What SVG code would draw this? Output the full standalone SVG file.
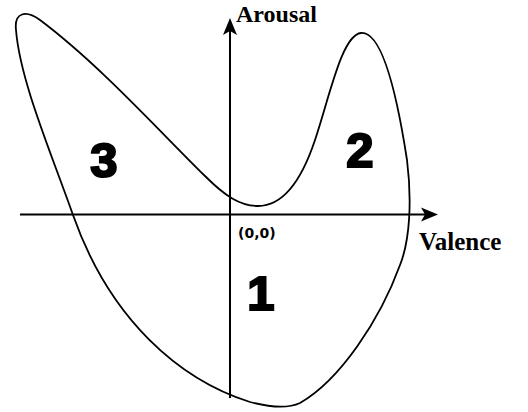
<svg xmlns="http://www.w3.org/2000/svg" width="528" height="412" viewBox="0 0 528 412">
<style>
.ax{stroke:#000;stroke-width:2;fill:none}
.cur{stroke:#000;stroke-width:1.8;fill:none}
.lbl{font-family:"Liberation Serif","Times New Roman",serif;font-weight:bold;font-size:25px;fill:#000}
.num{font-family:"Liberation Sans",Arial,sans-serif;font-weight:bold;font-size:49px;fill:#000;stroke:#000;stroke-width:2.2;text-anchor:middle}
.org{font-family:"DejaVu Sans",Verdana,sans-serif;font-weight:bold;font-size:14px;fill:#000}
</style>
<rect width="528" height="412" fill="#fff"/>
<g id="curve">
<path class="cur" d="M16,30 C14,12 26,10 40,20 C100,65 160,132 205,176 C225,196 240,206 258,206 C280,206 300,185 315,140 C330,95 342,35 361,33 C384,31 399,108 407,160 C412,200 410,240 400,265 C380,320 340,380 300,403 C285,410 265,406 250,402 C180,380 110,320 73,215 C50,150 20,80 16,30 Z"/>
</g>
<g id="connectors">
<line class="ax" x1="20" y1="214.5" x2="428" y2="214.5"/>
<path d="M438,214.5 L421,207.5 L425,214.5 L421,221.5 Z" fill="#000"/>
<line class="ax" x1="230" y1="28" x2="230" y2="398"/>
<path d="M230,18 L223,35 L230,31 L237,35 Z" fill="#000"/>
</g>
<g id="arousal"><text class="lbl" x="236" y="22" style="font-size:24px">Arousal</text></g>
<g id="valence"><text class="lbl" x="419" y="250">Valence</text></g>
<g id="origin"><text class="org" x="238" y="238">(0,0)</text></g>
<g id="region3"><text class="num" x="104" y="177">3</text></g>
<g id="region2"><text class="num" x="360" y="167">2</text></g>
<g id="region1"><text class="num" x="261" y="310">1</text></g>
</svg>
